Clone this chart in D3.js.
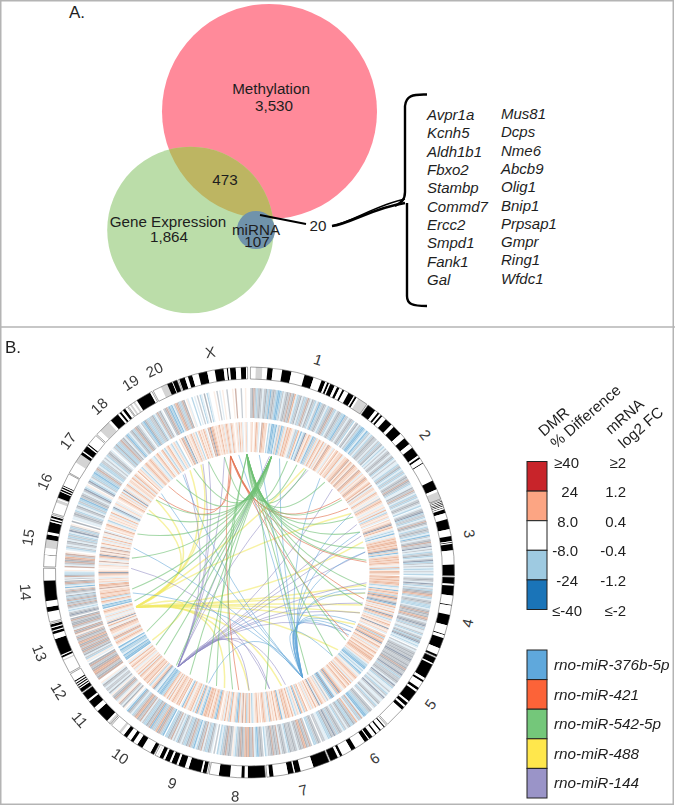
<!DOCTYPE html>
<html><head><meta charset="utf-8">
<script src="https://cdn.jsdelivr.net/npm/d3@7/dist/d3.min.js"></script>
<style>
html,body{margin:0;padding:0;background:#fff}
svg{display:block;filter:blur(0.42px)}
text{font-family:"Liberation Sans",Arial,sans-serif;fill:#1e1e1e}
</style></head><body><svg id="c" width="675" height="806"></svg>
<script>
// ---------- Panel A data
const vennNames = ["Methylation","Gene Expression","miRNA"];
const vennCounts = [3530,1864,107];
const vennTotals = [4023,2357,127];
const vennOverlap = 473;
const vennShared = 20;
const genesLeft = ["Avpr1a","Kcnh5","Aldh1b1","Fbxo2","Stambp","Commd7","Ercc2","Smpd1","Fank1","Gal"];
const genesRight = ["Mus81","Dcps","Nme6","Abcb9","Olig1","Bnip1","Prpsap1","Gmpr","Ring1","Wfdc1"];

// ---------- Panel B data
const chromNames = ["1","2","3","4","5","6","7","8","9","10","11","12","13","14","15","16","17","18","19","20","X"];
const chromStart = [0.4,35.4,69.3,91.3,114.6,138,157,175.4,191.6,207.6,222.4,234.4,240.8,256,271.6,286.8,299,312.2,324,332.2,339.9];
const chromEnd   = [35,69,90.9,114.2,137.6,156.6,175,191.2,207.2,222,234,240.4,255.6,271.2,286.4,298.7,311.8,323.7,331.8,339.5,359.6];
const chromLabelAngle = [18,52,80,103,126,146,166,183.5,200,215,229,238,249,265,279,294,306,318,328,335,350];

// ideogram bands: colour code + relative length
const bands = [
"w16 g20 w15 k16 w28 k28 w40 k28 w25 k12 w6 k6 w4 k14 w8 k8 w10 k6 w14 k18 w4 k6 w6 g30",
"k28 w10 k6 w6 k6 w14 k24 w10 k30 w18 k24 w14 k30 w6 k6 w14 k3 w60 k30 w8 g24",
"w4 k2 w3 k2 w3 k2 w3 k2 w4 k2 w4 k12 w20 k32 w22 k16 w3 k3 w3 k20 w45 k35",
"k22 w6 k32 w30 k3 w30 k35 w30 k3 w10 k35 w22 k7",
"k18 w4 k45 w8 k6 w20 k8 w6 k35 w6 k10 w6 k10 w60",
"w7 k4 w12 k5 w12 k5 w12 k12 w3 k14 w34 k15 w32 k8 w8 k25",
"k40 w32 k14 w3 k14 w35 k10 w6",
"k55 w10 k10 w35 k35 w30",
"w4 k12 w5 k38 w12 k20 w6 k16 w6 k15 w6 k12 w6 g2 w6",
"k12 w28 k18 w14 k10 w14 k12 w10 g8 w29",
"g8 w6 k40 w14 k24 w6 k24",
"k10 w3 k3 w3 k3 w3 k3 w3 k3 w20",
"w40 g4 w6 k6 w3 k50 w16 k8 w3 k8 w3 k8 w3",
"w30 k14 w18 k60 w36",
"w35 k1 w20 g25 k15 w8 k30 w4 k4 w4 k6 w4",
"w36 g10 w3 g3 k20 w3 k5 w3 k5 w3 k3 w40",
"w40 g30 k10 w4 k20 w4 k4 w36",
"w14 g34 w8 k26 w6 k6 w6 k8 w8",
"w4 g4 w4 g4 w4 k30 w4",
"w38 g30 k24 w3 k20",
"w3 k18 w10 k14 w20 k28 w24 k28 w10 k4 w6 k18 w16 k16 w5"
];

// heat tracks, one character per stripe, per chromosome
const outerTrack = [
"cdgcacdchcdacbcdcabbachcdcgcdfhacdhcacgchdcahcbacdchacdgcahcdcaabcchcdca",
"cdhcabbahbachacdcchcacdhahchcdchcdahchhacdahacahcdcgdcahhdcgchacahcdcha",
"hcdjaccahcgdchacdcahbchcdgccjhchacdahcjachchahcha",
"hcdchjcahcaddgfcahcdcaaahcdgdcdfgchcdjcachhcahcdadjahah",
"chcdcdcjdccdcdgdccjcaccdchjcahhchachjchhcdhach",
"cdcaabbhgachfcdaadchcahcdcacjcdaahhcc",
"cdcaa.cgcdfgcdchcdccdahcdchgcdcgdccha",
"cdcbahgcdfgfcdgdcahicdcgdcaha.c",
"hcdaachgcdahbacgcdaachcdahchgcdaa",
"bacgdfcacbgcdaachgcdfgcahcdbh",
"idhcgihcgdcihdhcchcdhi.",
"gdcgfgdcgd",
"hiachdcgdgcgdfgcdgcigdghcgddcgd",
"cjdchahcdgcdagdcadhcdgcibhaggd.chgdaahi.",
"ghcgdgfcgi.hachcdhcacahjcaci.d",
"hhcdcahcdhacabcdchcjahi",
"cjahcaabacgchaacchchacdch",
"hcadaacgcdhcbahcdacgdch",
"cabdcaaccdahcgcdh",
"cdgcbabhcfgcacgd",
"ih..a.h.c.ah.d.ah...i.c.h.i..c...i.g...c..i."
];
const innerTrack = [
"ie.ifeh.gfee.ahbbabhcebaehfefeihcafibhajeifehbcaehfeifheigfeihe",
"efieefhieefgifeigfeeigfeheiegfeiefigheeihfeihicefeihiehfhaeieh",
"eiegjefihahbihefeffefefjaebhefefefeihfaiffe",
"ffefeffeahibefeafjfecjbefheifhejfeaheifeijeieh",
"efafefjeifeheifeifeffeiehaabbhahbaihefeiehf",
"feifeihefjfaihbjbaicheiefhjeifiehei",
"feaifbiehaifiefefhibfeifieifaihefe",
"eifeihaifeafigehfbaeiifaeifhei",
"efbaefeifeffebahebfhaifeeihfebh",
"fefieefeifhfiefaabbabhhajfehae",
"feefeiefhfieiheifeifhi",
"bbabhaabhb",
"iefehfgehieefgihfijehihehiefe",
"babhefhafeefeeigeffheiehiefjei",
"iiehigihefjeigieghifihehfihigh",
"eiefihaieiehfihajhiehi",
"iefiehfhjehiefhieeifehfei",
"fiehaihefeiefehhaiefih",
"efhaiefihaieha.",
"eigfajieiefheia",
"efieifeh.gfjffeieiefieehefeihfei.iehfieh.ieh"
];

// miRNA links: hub angle and target angles (degrees clockwise from 12 o'clock)
const miRNA = ["rno-miR-376b-5p","rno-miR-421","rno-miR-542-5p","rno-miR-488","rno-miR-144"];
const hubBlue = 153;
const targetsBlue = [120,122,118,115,98,70,80,37,60,-5,5,15,-78,-48,-34,100,135,-100,200];
const hubRed = -9;
const targetsRed = [-50,-43,51,57,85,103,123,185];
const hubGreenA = -1;
const targetsGreenA = [19,24,29,40,52,62,70,78,84,97,106,125,135,150,172,188,196];
const hubGreenB = 11;
const targetsGreenB = [-83,-71,-60,-52,-38,-28,-20,-12,201,210,218,226,232,240,256,262];
const hubYellow = 253;
const targetsYellow = [-58,-52,-30,-24,28,60,75,96,100,106,110,116,131,164,180,192,235];
const hubPurple = 217;
const targetsPurple = [-33,-23,-20,-12,10,30,45,66,72,80,95,105,110,120,162,170,180];
const hubPurpleB = 272;
const targetsPurpleB = [170];

// legends
const dmrLabels = ["\u226540","24","8.0","-8.0","-24","\u2264-40"];
const mrnaLabels = ["\u22652","1.2","0.4","-0.4","-1.2","\u2264-2"];
const scaleColors = ["#c8242a","#fca583","#ffffff","#9ecae1","#1a74b8"];
const linkLegendColors = ["#5fa8dc","#fc6338","#74c77a","#ffe74c","#9a94c8"];

// ---------- drawing
const svg = d3.select("#c");
const rad = d => d*Math.PI/180;
svg.append("rect").attr("x",.75).attr("y",.75).attr("width",672.5).attr("height",803.5)
  .attr("fill","#fff").attr("stroke","#b4b4b4").attr("stroke-width",1.5);
svg.append("line").attr("x1",0).attr("x2",675).attr("y1",327).attr("y2",327).attr("stroke","#b4b4b4").attr("stroke-width",1.5);

// Panel A
const A = svg.append("g");
const rScale = d3.scaleSqrt().domain([0,4023]).range([0,107.5]);
const vennCx = [269.5,190.5,256], vennCy=[111.5,230,230];
const vennFill = ["#ff8a9a","#bbdda9","#7093ab"];
const defs = svg.append("defs");
defs.append("clipPath").attr("id","mclip").append("circle").attr("cx",vennCx[0]).attr("cy",vennCy[0]).attr("r",rScale(vennTotals[0]));
vennTotals.slice(0,2).forEach((t,i)=>A.append("circle").attr("cx",vennCx[i]).attr("cy",vennCy[i]).attr("r",rScale(t)+(i==1?1:0)).attr("fill",vennFill[i]));
A.append("circle").attr("cx",vennCx[1]).attr("cy",vennCy[1]).attr("r",rScale(vennTotals[1])+1).attr("fill","#bdb562").attr("clip-path","url(#mclip)");
A.append("circle").attr("cx",vennCx[2]).attr("cy",vennCy[2]).attr("r",rScale(vennTotals[2])).attr("fill",vennFill[2]);
const fmt = d3.format(",");
const tA = (s,x,y,o={})=>A.append("text").attr("x",x).attr("y",y).attr("text-anchor",o.a||"middle").attr("font-size",o.s||15.2).attr("font-style",o.i?"italic":null).text(s);
tA("A.",69,18,{a:"start",s:17});
tA(vennNames[0],271,94); tA(fmt(vennCounts[0]),274,111);
tA(fmt(vennOverlap),225,185);
tA(vennNames[1],168,227); tA(fmt(vennCounts[1]),169,241.5);
tA(vennNames[2],256,234.5); tA(fmt(vennCounts[2]),257,247);
tA(fmt(vennShared),318,231);
A.append("path").attr("d","M260,215L306,224").attr("stroke","#000").attr("stroke-width",2).attr("fill","none");
A.append("path").attr("d","M332,226C350,224 372,208 405,203").attr("stroke","#000").attr("stroke-width",2.6).attr("fill","none");
A.append("path").attr("d","M332,226C352,222 376,205 405,199").attr("stroke","#000").attr("stroke-width",1.4).attr("fill","none");
A.append("path").attr("d","M427,94.5C412,94 406,96 405,106L405,192C405,200 401,203 395,206M407,203L407,296C407,304 412,306 427,306")
  .attr("stroke","#000").attr("stroke-width",2.4).attr("fill","none");
genesLeft.forEach((g,i)=>tA(g,427,120+i*18.35,{a:"start",s:15,i:1}));
genesRight.forEach((g,i)=>tA(g,501,119+i*18.3,{a:"start",s:15,i:1}));

// Panel B
const cx=249, cy=572.5;
const B = svg.append("g").attr("transform",`translate(${cx},${cy})`);
svg.append("text").attr("x",5).attr("y",353).attr("font-size",17).text("B.");
const arc = d3.arc();
const bandColor = d3.scaleOrdinal().domain(["w","k","g"]).range(["#ffffff","#000000","#d4d4d4"]);

// ideogram
chromNames.forEach((name,i)=>{
  const parts = bands[i].split(" ").map(s=>({c:s[0],n:+s.slice(1)}));
  const total = d3.sum(parts,p=>p.n);
  const ang = d3.scaleLinear().domain([0,total]).range([chromStart[i],chromEnd[i]]);
  let pos=0;
  parts.forEach(p=>{
    B.append("path").attr("d",arc({innerRadius:193.5,outerRadius:205.5,startAngle:rad(ang(pos)),endAngle:rad(ang(pos+p.n))}))
      .attr("fill",bandColor(p.c));
    pos+=p.n;
  });
  B.append("path").attr("d",arc({innerRadius:193.5,outerRadius:205.5,startAngle:rad(chromStart[i]),endAngle:rad(chromEnd[i])}))
    .attr("fill","none").attr("stroke","#666").attr("stroke-width",.6);
  // label
  const a=chromLabelAngle[i], p=d3.pointRadial(rad(a),224);
  const rot = (a>90&&a<270)? a-180 : a;
  B.append("text").attr("transform",`translate(${p[0]},${p[1]}) rotate(${rot})`)
    .attr("text-anchor","middle").attr("dominant-baseline","central")
    .attr("font-size",15).style("fill","#3a3a3a").text(name);
});

// heat tracks
const heat = d3.scaleOrdinal().domain(["c","d","a","b","h","i","e","f","g","j"])
  .range(["#c6ccd2","#b0b6bd","#b8d7e8","#8ec0e0","#e2eef5","#fbeee6","#f6d8c8","#ecbaa1","#cfb2a8","#98a3b4"]);
function track(strings,r0,r1){
  strings.forEach((s,i)=>{
    const ang=d3.scaleLinear().domain([0,s.length]).range([chromStart[i],chromEnd[i]]);
    s.split("").forEach((ch,j)=>{
      if(ch===".")return;
      B.append("path").attr("d",arc({innerRadius:r0,outerRadius:r1,startAngle:rad(ang(j)),endAngle:rad(ang(j+1))}))
        .attr("fill",heat(ch));
    });
  });
}
track(outerTrack,154.5,184.5);
track(innerTrack,120.5,150.5);

// links
const linkR=118, ctrlR=30;
function linkPath(a,b){
  const p0=d3.pointRadial(rad(a),linkR), p1=d3.pointRadial(rad(b),linkR);
  const m=[p0[0]+p1[0],p0[1]+p1[1]], l=Math.hypot(m[0],m[1])||1;
  const c=[m[0]/l*ctrlR,m[1]/l*ctrlR];
  const pa=d3.path(); pa.moveTo(p0[0],p0[1]); pa.quadraticCurveTo(c[0],c[1],p1[0],p1[1]);
  return pa.toString();
}
const linkColor = {y:"#f2ea6a",p:"#8f8ac4",b:"#5fa5d8",g:"#6fc074",r:"#e2704c"};
function links(hub,targets,col,w){
  B.append("g").selectAll("path").data(targets).join("path")
    .attr("d",t=>linkPath(hub,t)).attr("fill","none").attr("stroke",col).attr("stroke-width",w).attr("stroke-opacity",.62);
}
links(hubYellow,targetsYellow,linkColor.y,1.5);
links(hubPurple,targetsPurple,linkColor.p,.9);
links(hubPurpleB,targetsPurpleB,linkColor.p,.9);
links(hubBlue,targetsBlue,linkColor.b,.9);
links(hubRed,targetsRed,linkColor.r,1);
links(hubGreenA,targetsGreenA,linkColor.g,1.05);
links(hubGreenB,targetsGreenB,linkColor.g,1.05);

// legends
const L = svg.append("g");
const yScale = d3.scaleLinear().domain([0,5]).range([461.5,609.5]);
scaleColors.forEach((c,i)=>L.append("rect").attr("x",527).attr("width",20).attr("y",yScale(i)).attr("height",yScale(i+1)-yScale(i))
  .attr("fill",c).attr("stroke","#222").attr("stroke-width",1));
dmrLabels.forEach((t,i)=>L.append("text").attr("x",i==5?582:(i==0?579:578)).attr("y",yScale(i)+6).attr("text-anchor","end").attr("font-size",15).text(t));
mrnaLabels.forEach((t,i)=>L.append("text").attr("x",626).attr("y",yScale(i)+6).attr("text-anchor","end").attr("font-size",15).text(t));
const head=(s,x,y)=>L.append("text").attr("transform",`translate(${x},${y}) rotate(-41)`).attr("font-size",15.3).text(s);
head("DMR",544,437); head("% Difference",556,449); head("mRNA",611,435); head("log2 FC",624,449);
const yLink = d3.scaleLinear().domain([0,5]).range([650,798]);
linkLegendColors.forEach((c,i)=>{
  L.append("rect").attr("x",527).attr("width",20).attr("y",yLink(i)).attr("height",yLink(i+1)-yLink(i))
    .attr("fill",c).attr("stroke","#222").attr("stroke-width",1);
  L.append("text").attr("x",554).attr("y",yLink(i)+20).attr("font-size",15.3).attr("font-style","italic").text(miRNA[i]);
});
</script></body></html>
